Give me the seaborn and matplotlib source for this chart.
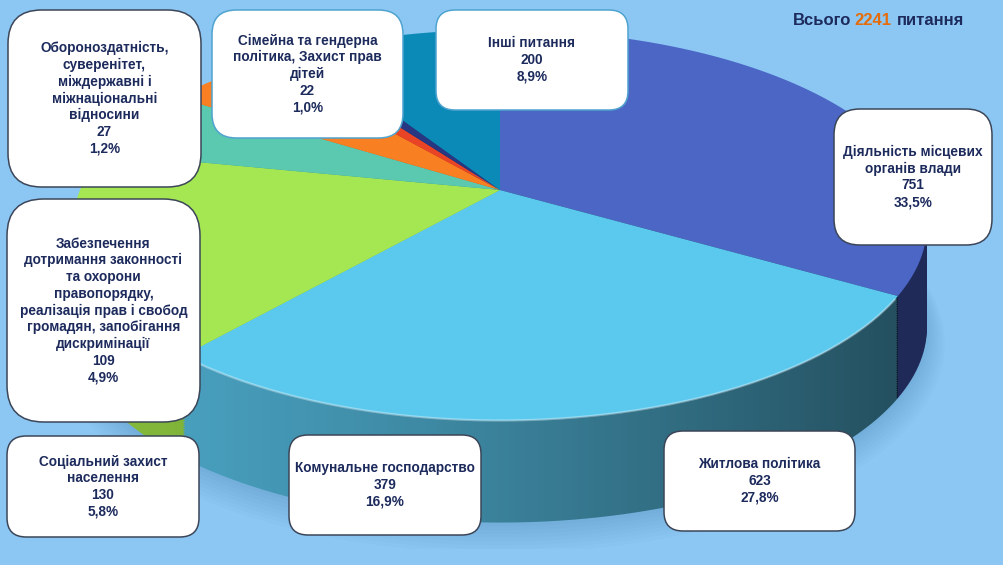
import numpy as np
import matplotlib
matplotlib.use("Agg")
import matplotlib.pyplot as plt
import matplotlib.transforms as mtransforms
from matplotlib.path import Path
from matplotlib.patches import FancyBboxPatch, Polygon
import seaborn as sns

# ── data ──────────────────────────────────────────────────────────────────────
names = [
    "Діяльність місцевих\nорганів влади",
    "Житлова політика",
    "Комунальне господарство",
    "Соціальний захист\nнаселення",
    "Забезпечення\nдотримання законності\nта охорони\nправопорядку,\nреалізація прав і свобод\nгромадян, запобігання\nдискримінації",
    "Обороноздатність,\nсуверенітет,\nміждержавні і\nміжнаціональні\nвідносини",
    "Сімейна та гендерна\nполітика. Захист прав\nдітей",
    "Інші питання",
]
values = [751, 623, 379, 130, 109, 27, 22, 200]
pct = [33.5, 27.8, 16.9, 5.8, 4.9, 1.2, 1.0, 8.9]
total = 2241

TOP  = ["#4B66C5", "#5BC9EE", "#A5E752", "#5BC8B0", "#F88022", "#EA4426", "#283782", "#0B8AB8"]
WALL = ["#1F2A58", "#4BA6C6", "#86BC3C", "#3E9A86", "#C0601A", "#B03018", "#1A2455", "#086A8E"]

# label boxes in pixels (x0, y0, x1, y1), image coords
BOXES = [(834, 109, 992, 245), (664, 431, 855, 531), (289, 435, 481, 535),
         (7, 436, 199, 537), (7, 199, 200, 422), (8, 10, 201, 187),
         (212, 10, 403, 138), (436, 10, 628, 110)]
BOX_EDGE = ["#3C4658", "#3C4658", "#3C4658", "#3C4658", "#3C4658",
            "#3C4658", "#4FA3CF", "#4FA3CF"]

BG = "#8CC7F4"
NAVY = "#1C2A5C"

sns.set_theme(style="white")
plt.rcParams["font.family"] = ["Liberation Sans", "DejaVu Sans"]

W, H = 1004, 565
fig = plt.figure(figsize=(W / 100, H / 100), dpi=100, facecolor=BG)


# ── perspective for the pie (front bigger than back) ─────────────────────────
class Persp(mtransforms.Transform):
    input_dims = output_dims = 2
    is_separable = False

    def __init__(self, k):
        super().__init__()
        self.k = k

    def transform_non_affine(self, v):
        v = np.asarray(v, float)
        w = 1 + self.k * v[:, 1]
        return np.column_stack([v[:, 0] / w, v[:, 1] / w])

    def transform_path_non_affine(self, path):
        pts = []
        for seg, code in path.iter_bezier():
            pts.append(seg(np.linspace(0, 1, 24)))
        pts = np.concatenate(pts)
        return Path(self.transform_non_affine(pts), closed=True)


SX, SY = 420, 189          # px per unit
APEX = (500, 190)          # apex in image px
XL, YL = (-1.1, 1.1), (-1.9, 1.0)
left = APEX[0] + XL[0] * SX
top = APEX[1] - YL[1] * SY
wpx = (XL[1] - XL[0]) * SX
hpx = (YL[1] - YL[0]) * SY
ax = fig.add_axes([left / W, (H - top - hpx) / H, wpx / W, hpx / H])
ax.set_facecolor("none")

K = 0.18
persp = Persp(K)
depth = 0.54

# soft shadow under the pie
tt = np.linspace(0, 2 * np.pi, 300)
ring = persp.transform_non_affine(np.column_stack([np.cos(tt), np.sin(tt)]))
for i in range(8):
    sh = ring * [1 + 0.006 * i, 1 + 0.01 * i] - [0, depth + 0.02 + 0.008 * i]
    ax.add_patch(Polygon(sh, closed=True, fc="#2B5F93", ec="none", alpha=0.028, zorder=0.5))

n = 45
for off in np.linspace(-depth, -depth / n, n):
    wedges, _ = ax.pie(values, colors=WALL, startangle=90, counterclock=False,
                       wedgeprops={"linewidth": 0})
    for w in wedges:
        w.set_transform(persp + mtransforms.Affine2D().translate(0, off) + ax.transData)

# darkening gradient over the front wall
t = np.linspace(np.pi, 2 * np.pi, 200)
rim = persp.transform_non_affine(np.column_stack([np.cos(t), np.sin(t)]))
band = np.vstack([rim, (rim - [0, depth])[::-1]])
clip = Polygon(band, closed=True, transform=ax.transData, fc="none", ec="none")
ax.add_patch(clip)
xr = (898 - APEX[0]) / SX
g = np.linspace(0, 1, 256) ** 1.3
grad = np.zeros((2, 256, 4))
grad[..., 3] = g * 0.52
im = ax.imshow(grad, extent=(-1.05, xr, -1.9, 0.2), aspect="auto",
               interpolation="bilinear", zorder=1.5)
im.set_clip_path(clip)

wedges, _ = ax.pie(values, colors=TOP, startangle=90, counterclock=False,
                   wedgeprops={"linewidth": 0})
for w in wedges:
    w.set_transform(persp + ax.transData)
    w.set_zorder(2)

ax.plot(rim[15:165, 0], rim[15:165, 1], color="white", alpha=0.35, lw=1.6, zorder=2.5)

ax.set_aspect("auto")
ax.set_xlim(*XL)
ax.set_ylim(*YL)
ax.axis("off")

# ── label boxes ───────────────────────────────────────────────────────────────
lab = fig.add_axes([0, 0, 1, 1])
lab.set_xlim(0, W)
lab.set_ylim(H, 0)
lab.axis("off")
lab.set_facecolor("none")

for name, v, p, (x0, y0, x1, y1), ec in zip(names, values, pct, BOXES, BOX_EDGE):
    r = 0.19 * min(x1 - x0, y1 - y0)
    lab.add_patch(FancyBboxPatch((x0, y0), x1 - x0, y1 - y0,
                                 boxstyle=f"round,pad=0,rounding_size={r}",
                                 fc="white", ec=ec, lw=1.1))
    txt = f"{name}\n{v}\n{p:.1f}%".replace(".", ",")
    lab.text((x0 + x1) / 2, (y0 + y1) / 2, txt, ha="center", va="center",
             fontsize=9.8, fontweight="bold", color=NAVY, linespacing=1.24)

# ── title ─────────────────────────────────────────────────────────────────────
t1 = lab.text(793, 25, "Всього", fontsize=12, fontweight="bold", color=NAVY,
              va="baseline", ha="left")
t2 = lab.annotate(f"{total}", xy=(1, 0), xycoords=t1, xytext=(3, 0),
                  textcoords="offset pixels", fontsize=12, fontweight="bold",
                  color="#E46C0A", va="bottom", ha="left")
t3 = lab.annotate("питання", xy=(1, 0), xycoords=t2, xytext=(6, 0),
                  textcoords="offset pixels", fontsize=12, fontweight="bold",
                  color=NAVY, va="bottom", ha="left")

plt.savefig("out.png", dpi=100, facecolor=BG)
